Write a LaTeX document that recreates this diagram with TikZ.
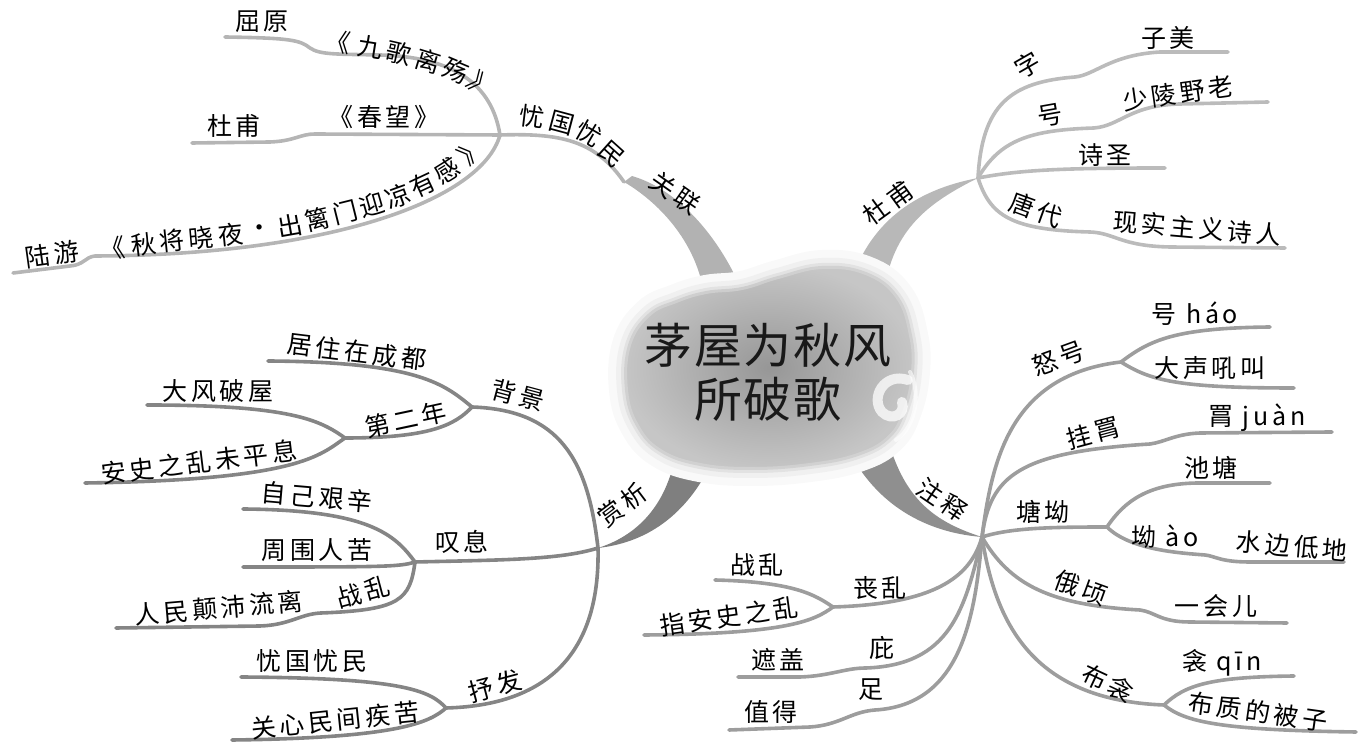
\documentclass[tikz,border=0pt]{standalone}
\usepackage{fontspec}
\setmainfont{Noto Sans CJK SC}
\newfontfamily\mmlblfam[LetterSpace=15]{Noto Sans CJK SC}
\newfontfamily\mmttlfam[LetterSpace=4]{Noto Sans CJK SC}
\newcommand\mmlbl{\mmlblfam\fontsize{12.5}{14}\selectfont}
\newcommand\mmttl{\mmttlfam\fontsize{24}{27}\selectfont}
\definecolor{cTL}{HTML}{B5B5B5}
\definecolor{cTR}{HTML}{BBBBBB}
\definecolor{cBL}{HTML}{858585}
\definecolor{cBR}{HTML}{9D9D9D}
\definecolor{gTL}{HTML}{B2B2B2}
\definecolor{gTR}{HTML}{B8B8B8}
\definecolor{gBL}{HTML}{7F7F7F}
\definecolor{gBR}{HTML}{8F8F8F}
\begin{document}
\begin{tikzpicture}[x=0.5pt,y=-0.5pt,
  lbl/.style={font=\mmlbl, inner sep=0pt, text=black},
  ttl/.style={font=\mmttl, inner sep=0pt, align=center, text=black!90},
  lnTL/.style={draw=cTL, line width=1.8pt, line cap=round},
  lnTR/.style={draw=cTR, line width=1.8pt, line cap=round},
  lnBL/.style={draw=cBL, line width=1.8pt, line cap=round},
  lnBR/.style={draw=cBR, line width=1.8pt, line cap=round}]
\useasboundingbox (0,0) rectangle (1362,742);

% ---------- junctions and free ends ----------
\coordinate (J1) at (500,135);
\coordinate (qyE) at (225,37);
\coordinate (cwE) at (192,143);
\coordinate (lyE) at (13,273);
\coordinate (ygS) at (624,182);
\coordinate (J2) at (978,178);
\coordinate (ziE) at (1228,52);
\coordinate (haoE) at (1268,102);
\coordinate (ssE) at (1165,168);
\coordinate (tdE) at (1285,248);
\coordinate (J8) at (982,537);
\coordinate (J9) at (1121,362);
\coordinate (hhE) at (1270,327);
\coordinate (dsE) at (1294,388);
\coordinate (gjE) at (1332,432);
\coordinate (J10) at (1107,527);
\coordinate (ctE) at (1270,483);
\coordinate (aoE) at (1344,562);
\coordinate (eqE) at (1287,623);
\coordinate (J11) at (1164,705);
\coordinate (qnE) at (1294,676);
\coordinate (bzE) at (1356,732);
\coordinate (J12) at (833,607);
\coordinate (zl2E) at (715,580);
\coordinate (zaE) at (644,635);
\coordinate (biE) at (738,677);
\coordinate (zuE) at (729,730);
\coordinate (J3) at (598,548);
\coordinate (J4) at (472,407);
\coordinate (jzE) at (268,361);
\coordinate (J5) at (345,438);
\coordinate (dfE) at (147,405);
\coordinate (asE) at (85,483);
\coordinate (J6) at (415,562);
\coordinate (zjE) at (243,509);
\coordinate (zwE) at (243,567);
\coordinate (zl1E) at (116,628);
\coordinate (J7) at (446,708);
\coordinate (ygE2) at (241,677);
\coordinate (gxE) at (232,740);

% ---------- thick main branches ----------
\fill[gTL] (ygS) .. controls (655,200) and (698,240) .. (705,300) -- (745,298) .. controls (722,240) and (680,190) .. (632,176) -- cycle;
\fill[gTR] (848,290) .. controls (868,222) and (915,190) .. (J2) .. controls (930,202) and (893,228) .. (884,292) -- cycle;
\fill[gBR] (846,445) .. controls (872,500) and (920,532) .. (J8) .. controls (935,522) and (905,500) .. (888,440) -- cycle;
\fill[gBL] (676,452) .. controls (668,500) and (642,534) .. (J3) .. controls (652,542) and (690,510) .. (714,458) -- cycle;

% ---------- cloud ----------
\shade[preaction={draw=gray!5, line width=16pt}, preaction={draw=gray!12, line width=8pt},
  postaction={draw=gray!30, line width=3pt, opacity=0.6},
  inner color=gray!82, outer color=gray!45]
  plot[smooth cycle, tension=0.7] coordinates {(628,345) (648,314) (676,300) (706,291) (742,287) (778,276) (822,266) (866,272) (898,296) (912,335) (914,372) (906,410) (890,438) (858,456) (810,466) (752,470) (700,466) (660,452) (636,426) (625,390)};
\draw[white, line width=5pt, opacity=0.75, line cap=round] (908,380) .. controls (884,372) and (870,398) .. (882,412) .. controls (892,422) and (906,414) .. (902,402);
\draw[white, line width=2pt, opacity=0.6, line cap=round] (910,372) .. controls (920,390) and (918,425) .. (896,440);
\node[ttl] (title) at (768,372) {茅屋为秋风\\所破歌};

% ---------- top-left: 关联 ----------
\draw[lnTL] (J1) .. controls (560,133) and (595,140) .. (ygS);
\draw[lnTL] (J1) .. controls (492,85) and (455,57) .. (380,55) .. controls (338,54) and (320,55) .. (310,48) .. controls (300,40) and (290,38) .. (qyE);
\draw[lnTL] (J1) -- (315,134) .. controls (300,134) and (295,141) .. (270,142) -- (cwE);
\draw[lnTL] (J1) .. controls (482,200) and (330,255) .. (95,256) .. controls (85,257) and (84,265) .. (70,266) -- (lyE);
\node[lbl] (quyuan) at (262,22) {屈原};
\node[lbl] (chunwang) at (384,117) {《春望》};
\node[lbl] (dufu1) at (234,126) {杜甫};
\node[lbl, rotate=8] (luyou) at (52,254) {陆游};
\node[lbl, rotate=-35] (guanlian) at (675,193) {关联};
% 《九歌离殇》 along its curve
\node[lbl, rotate=-8] (jg1) at (338,42) {《};
\node[lbl, rotate=-9] (jg2) at (370,47) {九};
\node[lbl, rotate=-13] (jg3) at (399,53) {歌};
\node[lbl, rotate=-17] (jg4) at (428,61) {离};
\node[lbl, rotate=-23] (jg5) at (456,71) {殇};
\node[lbl, rotate=-40] (jg6) at (481,85) {》};
% 《秋将晓夜·出篱门迎凉有感》 along its curve
\node[lbl, rotate=7] (qj1) at (113,249) {《};
\node[lbl, rotate=7] (qj2) at (144,245) {秋};
\node[lbl, rotate=6] (qj3) at (172,241) {将};
\node[lbl, rotate=5] (qj4) at (201,238) {晓};
\node[lbl, rotate=6] (qj5) at (231,235) {夜};
\node[lbl, rotate=8] (qj6) at (260,231) {·};
\node[lbl, rotate=10] (qj7) at (290,226) {出};
\node[lbl, rotate=13] (qj8) at (318,219) {篱};
\node[lbl, rotate=14] (qj9) at (345,212) {门};
\node[lbl, rotate=16] (qj10) at (372,205) {迎};
\node[lbl, rotate=20] (qj11) at (398,196) {凉};
\node[lbl, rotate=25] (qj12) at (423,185) {有};
\node[lbl, rotate=32] (qj13) at (447,171) {感};
\node[lbl, rotate=42] (qj14) at (471,151) {》};
% 忧国忧民 along its curve
\node[lbl, rotate=-7] (yg1) at (532,117) {忧};
\node[lbl, rotate=-15] (yg2) at (562,123) {国};
\node[lbl, rotate=-30] (yg3) at (589,134) {忧};
\node[lbl, rotate=-42] (yg4) at (612,154) {民};

% ---------- top-right: 杜甫 ----------
\draw[lnTR] (J2) .. controls (982,105) and (1010,82) .. (1075,77) .. controls (1095,75) and (1110,55) .. (1160,52) -- (ziE);
\draw[lnTR] (J2) .. controls (1000,140) and (1030,130) .. (1094,128) .. controls (1120,126) and (1130,105) .. (1180,104) -- (haoE);
\draw[lnTR] (J2) .. controls (1020,170) and (1060,168) .. (ssE);
\draw[lnTR] (J2) .. controls (990,215) and (1010,230) .. (1090,232) .. controls (1115,233) and (1120,246) .. (1170,247) -- (tdE);
\node[lbl, rotate=36] (dufu2) at (888,203) {杜甫};
\node[lbl, rotate=30] (zi) at (1028,65) {字};
\node[lbl] (zimei) at (1168,38) {子美};
\node[lbl, rotate=10] (hao) at (1050,115) {号};
\node[lbl, rotate=8] (shaoling) at (1178,93) {少陵野老};
\node[lbl] (shisheng) at (1105,155) {诗圣};
\node[lbl, rotate=-20] (tangdai) at (1036,210) {唐代};
\node[lbl, rotate=-5] (xianshi) at (1197,228) {现实主义诗人};

% ---------- bottom-right: 注释 ----------
\draw[lnBR] (J8) .. controls (992,460) and (1010,375) .. (J9);
\draw[lnBR] (J9) .. controls (1150,340) and (1175,328) .. (hhE);
\draw[lnBR] (J9) .. controls (1150,380) and (1175,388) .. (dsE);
\draw[lnBR] (J8) .. controls (990,475) and (1020,452) .. (1150,444) .. controls (1165,442) and (1175,434) .. (1200,433) -- (gjE);
\draw[lnBR] (J8) .. controls (1010,528) and (1050,527) .. (J10);
\draw[lnBR] (J10) .. controls (1125,500) and (1150,483) .. (1200,483) -- (ctE);
\draw[lnBR] (J10) .. controls (1130,550) and (1180,553) .. (1205,555) .. controls (1215,556) and (1220,562) .. (1250,562) -- (aoE);
\draw[lnBR] (J8) .. controls (1010,585) and (1050,605) .. (1140,610) .. controls (1155,612) and (1160,622) .. (1190,622) -- (eqE);
\draw[lnBR] (J8) .. controls (995,620) and (1030,700) .. (J11);
\draw[lnBR] (J11) .. controls (1185,685) and (1210,677) .. (qnE);
\draw[lnBR] (J11) .. controls (1185,722) and (1220,730) .. (bzE);
\draw[lnBR] (J8) .. controls (970,580) and (930,604) .. (J12);
\draw[lnBR] (J12) .. controls (815,595) and (795,582) .. (zl2E);
\draw[lnBR] (J12) .. controls (815,620) and (790,634) .. (zaE);
\draw[lnBR] (J8) .. controls (965,610) and (950,665) .. (866,668) .. controls (845,668) and (830,676) .. (800,677) -- (biE);
\draw[lnBR] (J8) .. controls (975,620) and (960,705) .. (875,710) .. controls (850,712) and (840,725) .. (810,727) -- (zuE);
\node[lbl, rotate=-34] (zhushi) at (942,500) {注释};
\node[lbl, rotate=20] (nuhao) at (1058,358) {怒号};
\node[lbl] (haohao) at (1195,314) {号 háo};
\node[lbl] (dasheng) at (1210,368) {大声吼叫};
\node[lbl, rotate=15] (guajuan) at (1093,433) {挂罥};
\node[lbl] (juan) at (1257,418) {罥 juàn};
\node[lbl] (tangao) at (1043,512) {塘坳};
\node[lbl] (chitang) at (1211,468) {池塘};
\node[lbl] (ao) at (1165,537) {坳 ào};
\node[lbl, rotate=-5] (shuibian) at (1292,546) {水边低地};
\node[lbl, rotate=-20] (eqing) at (1081,588) {俄顷};
\node[lbl] (yihuier) at (1216,606) {一会儿};
\node[lbl, rotate=-25] (buqin) at (1108,683) {布衾};
\node[lbl] (qin) at (1222,663) {衾 qīn};
\node[lbl, rotate=-8] (buzhi) at (1258,712) {布质的被子};
\node[lbl] (sangluan) at (880,588) {丧乱};
\node[lbl] (zhanluan2) at (757,565) {战乱};
\node[lbl, rotate=8] (zhian) at (729,616) {指安史之乱};
\node[lbl] (bi) at (882,648) {庇};
\node[lbl] (zhegai) at (778,660) {遮盖};
\node[lbl] (zu) at (871,690) {足};
\node[lbl] (zhide) at (771,712) {值得};

% ---------- bottom-left: 赏析 ----------
\draw[lnBL] (J3) .. controls (588,460) and (560,410) .. (J4);
\draw[lnBL] (J4) .. controls (445,385) and (420,362) .. (jzE);
\draw[lnBL] (J4) .. controls (455,425) and (430,438) .. (J5);
\draw[lnBL] (J5) .. controls (320,420) and (290,405) .. (dfE);
\draw[lnBL] (J5) .. controls (320,455) and (300,480) .. (asE);
\draw[lnBL] (J3) .. controls (560,560) and (500,560) .. (J6);
\draw[lnBL] (J6) .. controls (395,535) and (370,510) .. (zjE);
\draw[lnBL] (J6) .. controls (400,567) and (380,567) .. (zwE);
\draw[lnBL] (J6) .. controls (410,600) and (400,610) .. (321,613) .. controls (300,614) and (290,625) .. (260,626) -- (zl1E);
\draw[lnBL] (J3) .. controls (600,640) and (560,705) .. (J7);
\draw[lnBL] (J7) .. controls (430,690) and (400,678) .. (ygE2);
\draw[lnBL] (J7) .. controls (430,722) and (400,738) .. (gxE);
\node[lbl, rotate=37] (shangxi) at (622,505) {赏析};
\node[lbl, rotate=-15] (beijing) at (518,395) {背景};
\node[lbl, rotate=-7] (juzhu) at (357,352) {居住在成都};
\node[lbl, rotate=12] (dierNian) at (406,420) {第二年};
\node[lbl] (dafeng) at (218,391) {大风破屋};
\node[lbl, rotate=7] (anshi) at (199,462) {安史之乱未平息};
\node[lbl] (tanxi) at (462,542) {叹息};
\node[lbl, rotate=-5] (ziji) at (317,497) {自己艰辛};
\node[lbl] (zhouwei) at (317,550) {周围人苦};
\node[lbl, rotate=15] (zhanluan1) at (363,592) {战乱};
\node[lbl, rotate=5] (renmin) at (219,608) {人民颠沛流离};
\node[lbl, rotate=15] (shufa) at (495,686) {抒发};
\node[lbl] (youguo2) at (312,661) {忧国忧民};
\node[lbl, rotate=6] (guanxin) at (335,720) {关心民间疾苦};
\end{tikzpicture}
\end{document}
